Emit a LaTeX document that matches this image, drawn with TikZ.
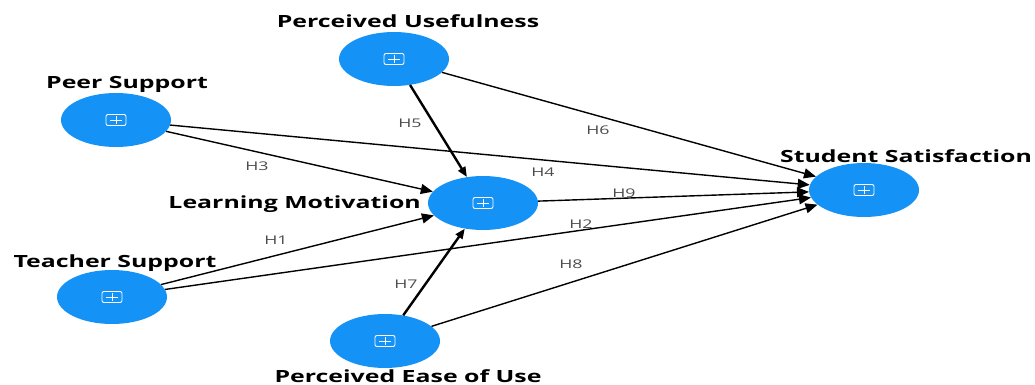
\documentclass[tikz,border=0pt]{standalone}
\usepackage{fontspec}
\setmainfont{Open Sans}
\newfontfamily\ttlfont[FakeStretch=1.48]{Open Sans}
\usetikzlibrary{shapes.geometric,arrows.meta,calc}
\definecolor{lvblue}{HTML}{1592F6}
\tikzset{
  lv/.style={ellipse, fill=lvblue, minimum width=110pt, minimum height=54pt, inner sep=0pt},
  ttl/.style={font=\ttlfont\bfseries\fontsize{16.8}{18}\selectfont, text=black, inner sep=0pt},
  hl/.style={font=\ttlfont\fontsize{12}{13}\selectfont, text=black!70, inner sep=0pt},
  path/.style={draw=black, line width=1.4pt, -{Triangle[length=12pt,width=10pt]}},
  thick path/.style={path, line width=2.4pt, -{Triangle[length=10pt,width=8pt]}},
}
\newcommand{\plusicon}[1]{%
  \draw[white, line width=0.9pt, rounded corners=2pt] ($(#1)+(-10,-5.5)$) rectangle ($(#1)+(10,5.5)$);
  \draw[white, line width=0.9pt] ($(#1)+(-6,0)$) -- ($(#1)+(6,0)$) ($(#1)+(0,-4)$) -- ($(#1)+(0,4)$);
}
\begin{document}
\begin{tikzpicture}[x=1pt,y=-1pt]
\useasboundingbox (0,0) rectangle (1035,385);
\node[lv] (pu) at (394,59) {};
\node[lv] (ps) at (116,120) {};
\node[lv] (lm) at (483,203) {};
\node[lv] (ss) at (864,190) {};
\node[lv] (ts) at (112,297) {};
\node[lv] (peu) at (385,341) {};
\foreach \n in {pu,ps,lm,ss,ts,peu}{\plusicon{\n}}
\node[ttl] (tpu) at (408,21) {Perceived Usefulness};
\node[ttl] (tps) at (127,84) {Peer Support};
\node[ttl, anchor=east] (tlm) at (421,204) {Learning Motivation};
\node[ttl] (tss) at (906,156) {Student Satisfaction};
\node[ttl] (tts) at (115,263) {Teacher Support};
\node[ttl] (tpeu) at (408,376) {Perceived Ease of Use};
\draw[thick path] (pu) -- (lm);
\draw[thick path] (peu) -- (lm);
\draw[path] (pu) -- (ss);
\draw[path] (ps) -- (ss);
\draw[path] (ps) -- (lm);
\draw[path] (ts) -- (lm);
\draw[path] (ts) -- (ss);
\draw[path] (peu) -- (ss);
\draw[path] (lm) -- (ss);
\node[hl] (h5) at (410,123) {H5};
\node[hl] (h6) at (598,130) {H6};
\node[hl] (h3) at (257,166) {H3};
\node[hl] (h4) at (543,172) {H4};
\node[hl] (h9) at (624,193) {H9};
\node[hl] (h1) at (276,240) {H1};
\node[hl] (h2) at (581,224) {H2};
\node[hl] (h7) at (406,284) {H7};
\node[hl] (h8) at (571,264) {H8};
\end{tikzpicture}
\end{document}
